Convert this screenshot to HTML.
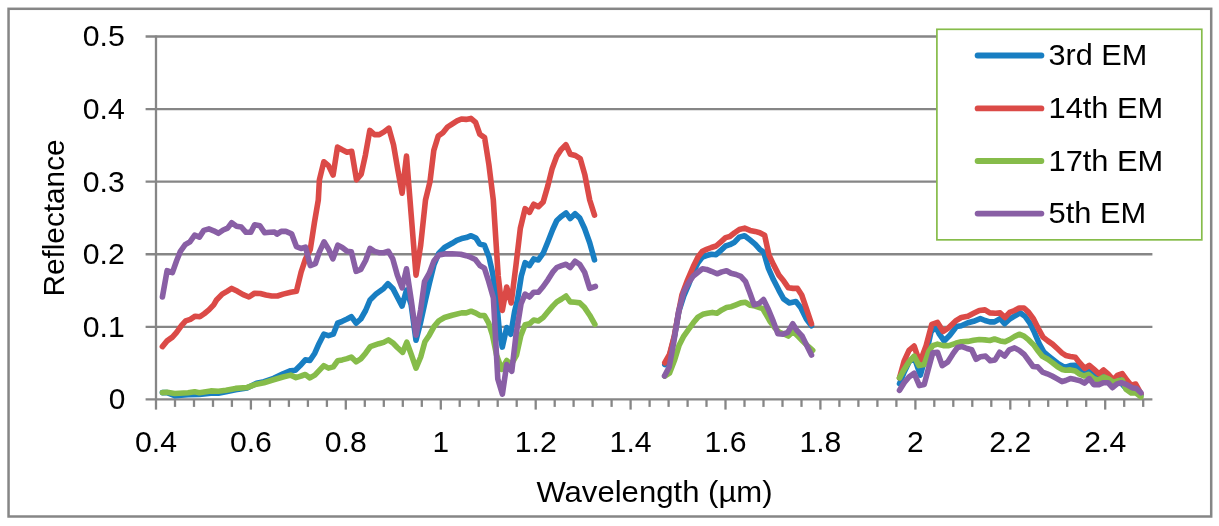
<!DOCTYPE html>
<html lang="en"><head><meta charset="utf-8"><title>Reflectance vs Wavelength</title>
<style>html,body{margin:0;padding:0;background:#fff}body{width:1219px;height:526px;overflow:hidden}svg text{font-kerning:normal}</style></head>
<body>
<svg width="1219" height="526" viewBox="0 0 1219 526" style="display:block">
<rect x="0" y="0" width="1219" height="526" fill="#fff"/>
<rect x="8.55" y="8.8" width="1202.65" height="507.7" fill="none" stroke="#868686" stroke-width="2.5"/>
<g stroke="#868686" stroke-width="2.3" fill="none">
<line x1="145.6" y1="399.40" x2="1152.4" y2="399.40"/>
<line x1="145.6" y1="326.82" x2="1152.4" y2="326.82"/>
<line x1="145.6" y1="254.24" x2="1152.4" y2="254.24"/>
<line x1="145.6" y1="181.66" x2="1152.4" y2="181.66"/>
<line x1="145.6" y1="109.08" x2="1152.4" y2="109.08"/>
<line x1="145.6" y1="36.50" x2="1152.4" y2="36.50"/>
<line x1="156.0" y1="35.50" x2="156.0" y2="399.40"/>
<line x1="156.0" y1="399.40" x2="156.0" y2="409.6"/>
<line x1="175.0" y1="399.40" x2="175.0" y2="406.9"/>
<line x1="194.0" y1="399.40" x2="194.0" y2="406.9"/>
<line x1="213.0" y1="399.40" x2="213.0" y2="406.9"/>
<line x1="231.9" y1="399.40" x2="231.9" y2="406.9"/>
<line x1="250.9" y1="399.40" x2="250.9" y2="409.6"/>
<line x1="269.9" y1="399.40" x2="269.9" y2="406.9"/>
<line x1="288.9" y1="399.40" x2="288.9" y2="406.9"/>
<line x1="307.9" y1="399.40" x2="307.9" y2="406.9"/>
<line x1="326.9" y1="399.40" x2="326.9" y2="406.9"/>
<line x1="345.8" y1="399.40" x2="345.8" y2="409.6"/>
<line x1="364.8" y1="399.40" x2="364.8" y2="406.9"/>
<line x1="383.8" y1="399.40" x2="383.8" y2="406.9"/>
<line x1="402.8" y1="399.40" x2="402.8" y2="406.9"/>
<line x1="421.8" y1="399.40" x2="421.8" y2="406.9"/>
<line x1="440.8" y1="399.40" x2="440.8" y2="409.6"/>
<line x1="459.7" y1="399.40" x2="459.7" y2="406.9"/>
<line x1="478.7" y1="399.40" x2="478.7" y2="406.9"/>
<line x1="497.7" y1="399.40" x2="497.7" y2="406.9"/>
<line x1="516.7" y1="399.40" x2="516.7" y2="406.9"/>
<line x1="535.7" y1="399.40" x2="535.7" y2="409.6"/>
<line x1="554.7" y1="399.40" x2="554.7" y2="406.9"/>
<line x1="573.6" y1="399.40" x2="573.6" y2="406.9"/>
<line x1="592.6" y1="399.40" x2="592.6" y2="406.9"/>
<line x1="611.6" y1="399.40" x2="611.6" y2="406.9"/>
<line x1="630.6" y1="399.40" x2="630.6" y2="409.6"/>
<line x1="649.6" y1="399.40" x2="649.6" y2="406.9"/>
<line x1="668.6" y1="399.40" x2="668.6" y2="406.9"/>
<line x1="687.6" y1="399.40" x2="687.6" y2="406.9"/>
<line x1="706.5" y1="399.40" x2="706.5" y2="406.9"/>
<line x1="725.5" y1="399.40" x2="725.5" y2="409.6"/>
<line x1="744.5" y1="399.40" x2="744.5" y2="406.9"/>
<line x1="763.5" y1="399.40" x2="763.5" y2="406.9"/>
<line x1="782.5" y1="399.40" x2="782.5" y2="406.9"/>
<line x1="801.5" y1="399.40" x2="801.5" y2="406.9"/>
<line x1="820.4" y1="399.40" x2="820.4" y2="409.6"/>
<line x1="839.4" y1="399.40" x2="839.4" y2="406.9"/>
<line x1="858.4" y1="399.40" x2="858.4" y2="406.9"/>
<line x1="877.4" y1="399.40" x2="877.4" y2="406.9"/>
<line x1="896.4" y1="399.40" x2="896.4" y2="406.9"/>
<line x1="915.4" y1="399.40" x2="915.4" y2="409.6"/>
<line x1="934.3" y1="399.40" x2="934.3" y2="406.9"/>
<line x1="953.3" y1="399.40" x2="953.3" y2="406.9"/>
<line x1="972.3" y1="399.40" x2="972.3" y2="406.9"/>
<line x1="991.3" y1="399.40" x2="991.3" y2="406.9"/>
<line x1="1010.3" y1="399.40" x2="1010.3" y2="409.6"/>
<line x1="1029.3" y1="399.40" x2="1029.3" y2="406.9"/>
<line x1="1048.2" y1="399.40" x2="1048.2" y2="406.9"/>
<line x1="1067.2" y1="399.40" x2="1067.2" y2="406.9"/>
<line x1="1086.2" y1="399.40" x2="1086.2" y2="406.9"/>
<line x1="1105.2" y1="399.40" x2="1105.2" y2="409.6"/>
<line x1="1124.2" y1="399.40" x2="1124.2" y2="406.9"/>
<line x1="1143.2" y1="399.40" x2="1143.2" y2="406.9"/>
</g>
<g fill="none" stroke-width="5.6" stroke-linejoin="round" stroke-linecap="round">
<polyline stroke="#187EC2" points="162.4,392.6 167.1,392.6 174.7,395.6 188.0,394.7 199.4,394.5 210.8,393.2 218.4,393.2 226.0,391.8 235.6,389.7 247.0,388.0 256.5,383.3 264.0,381.7 273.6,378.3 283.0,373.8 290.7,370.7 295.4,370.3 300.2,365.6 305.3,359.9 309.9,360.5 314.8,353.2 319.0,343.7 323.8,334.2 328.5,335.7 333.3,334.2 337.6,323.2 342.2,321.3 347.1,319.0 351.3,316.7 356.1,323.2 360.8,319.0 365.6,310.5 370.0,300.0 376.0,294.1 383.7,288.4 388.0,283.7 392.8,288.4 397.3,297.0 402.1,306.1 406.5,290.0 411.2,305.0 416.0,340.3 420.7,322.0 425.5,300.0 429.3,283.7 434.0,264.6 438.8,253.2 444.5,247.5 452.1,243.3 456.8,240.3 461.6,238.6 466.3,237.6 471.1,235.7 475.9,238.0 479.7,244.1 484.4,245.2 489.0,257.0 492.8,274.1 496.6,300.0 499.4,332.3 502.3,347.1 506.7,327.6 510.8,334.2 514.6,311.4 517.5,300.0 521.3,276.0 525.1,262.7 529.5,265.6 533.7,258.9 538.4,259.9 543.2,253.2 547.9,241.8 552.7,229.5 556.8,220.5 561.6,216.2 566.0,212.9 570.2,218.6 575.1,213.7 579.8,218.1 584.6,228.5 589.7,242.8 594.5,259.9"/>
<polyline stroke="#187EC2" points="664.8,364.6 669.5,356.0 674.3,337.0 679.0,311.0 683.8,296.0 688.5,285.0 693.3,272.0 698.0,262.7 702.4,257.0 706.6,255.5 711.4,254.2 716.1,254.7 720.9,250.4 725.6,246.0 729.8,244.7 734.6,242.2 739.3,237.1 744.6,235.7 750.0,239.9 755.1,244.1 759.8,249.4 763.7,252.3 768.4,268.4 773.5,279.8 778.9,290.3 783.6,298.9 789.3,302.9 795.9,301.5 800.7,307.6 806.4,319.0 811.5,325.7"/>
<polyline stroke="#187EC2" points="899.5,383.7 904.2,372.0 909.0,362.0 914.1,357.0 920.4,375.1 926.0,355.0 931.0,332.0 935.6,326.6 939.4,334.2 944.1,340.9 949.8,335.2 956.5,326.6 961.3,325.7 967.9,322.8 973.6,321.3 980.3,318.6 985.0,320.5 989.8,321.9 994.5,321.9 1000.2,318.6 1004.6,323.8 1009.7,319.0 1014.5,316.2 1020.2,312.9 1024.9,316.2 1029.7,322.8 1034.4,332.3 1039.2,343.7 1044.0,352.3 1048.7,356.1 1053.5,359.9 1058.2,363.7 1063.0,366.5 1065.7,367.1 1070.3,365.6 1075.3,365.3 1078.7,368.7 1081.7,372.5 1088.6,370.9 1093.8,375.5 1098.3,379.0 1103.6,374.0 1108.0,377.0 1113.3,381.0 1119.2,378.6 1121.9,384.0 1126.4,389.0 1131.2,391.0 1135.7,391.0 1140.9,395.0"/>
<polyline stroke="#DB4A47" points="162.4,346.6 167.1,340.9 172.4,337.1 176.6,332.3 181.4,325.7 185.7,320.9 190.3,319.4 195.2,316.2 199.8,316.7 204.2,313.7 208.9,309.9 213.7,304.8 216.5,300.0 222.2,294.1 227.0,291.3 231.7,288.4 237.5,291.3 243.2,294.7 248.9,297.0 254.6,293.2 260.3,293.5 266.0,295.0 271.7,296.0 277.4,296.0 283.1,294.1 290.7,292.2 296.4,291.3 301.1,272.2 305.5,258.9 310.3,249.4 314.4,222.8 318.3,200.0 319.4,179.8 323.8,161.8 328.5,165.6 333.1,175.1 337.5,147.1 342.2,149.8 347.0,152.3 351.7,151.3 356.5,179.8 361.2,174.1 365.4,155.1 369.8,130.4 374.5,134.6 379.3,134.6 384.0,131.9 388.8,128.1 393.5,144.7 397.9,170.3 402.1,193.2 406.5,156.1 411.2,215.0 416.0,275.1 420.7,245.0 425.5,200.0 430.0,181.7 433.8,150.4 438.2,136.1 442.9,132.7 447.5,127.0 452.4,123.8 457.0,120.9 461.4,119.0 466.1,119.4 470.9,118.4 475.6,122.4 479.8,134.2 484.6,137.6 488.9,164.6 493.3,200.0 498.2,276.0 502.3,310.5 506.7,287.0 511.2,303.0 516.0,265.0 520.3,228.5 525.1,208.6 529.5,212.4 533.7,204.2 538.4,206.7 543.2,201.9 547.9,185.6 552.2,168.4 556.8,156.1 561.2,149.4 565.9,144.7 570.3,154.2 575.4,155.5 580.2,158.6 584.9,175.1 589.7,200.0 594.5,215.2"/>
<polyline stroke="#DB4A47" points="664.8,362.7 669.5,354.5 674.3,336.0 679.0,310.0 681.9,295.0 687.6,279.8 693.3,266.5 698.0,257.0 702.4,251.3 706.6,249.4 711.4,247.5 716.1,246.0 720.9,241.8 725.6,237.6 729.8,236.5 734.6,232.7 739.3,229.5 744.6,228.1 750.0,230.4 755.1,231.4 759.8,232.7 764.6,235.2 769.0,255.1 773.5,264.6 778.9,275.1 783.6,280.8 788.4,287.8 793.1,288.4 797.5,288.4 801.7,295.0 806.5,309.0 811.5,323.8"/>
<polyline stroke="#DB4A47" points="899.5,377.9 904.2,360.8 909.0,350.4 914.1,346.0 919.8,362.7 926.1,345.6 931.8,324.3 937.5,322.4 943.2,331.4 948.9,327.6 955.6,320.9 961.3,317.5 967.9,316.2 973.6,313.3 979.3,310.5 985.0,309.9 989.8,312.9 995.5,313.3 1000.2,312.9 1005.0,317.5 1009.7,312.4 1014.5,310.5 1019.2,308.0 1024.0,308.0 1028.7,312.4 1033.5,319.0 1038.3,328.5 1043.0,337.1 1047.8,340.9 1052.5,344.1 1057.3,348.5 1062.0,353.0 1065.7,355.4 1070.3,356.4 1075.3,357.2 1079.4,362.4 1084.8,368.4 1089.3,365.4 1093.8,369.2 1099.0,373.8 1103.6,370.0 1108.0,373.8 1113.3,379.9 1117.4,375.3 1122.2,373.5 1126.7,379.9 1131.2,385.2 1135.7,384.0 1140.9,393.5"/>
<polyline stroke="#86BC4A" points="162.4,392.6 167.1,392.2 174.7,393.5 188.0,392.8 194.7,391.8 199.4,392.8 210.8,390.9 218.4,391.3 226.0,390.3 235.6,388.4 247.0,387.5 256.5,384.2 264.0,382.7 273.6,379.8 283.0,377.0 290.7,375.1 296.0,377.6 301.1,376.0 305.3,374.5 309.9,377.9 314.8,375.1 323.8,365.6 328.5,368.1 333.3,366.9 337.6,360.8 342.2,359.9 347.1,358.6 351.3,357.0 356.1,361.8 360.8,358.9 365.6,353.2 370.3,346.6 374.5,345.2 378.9,343.7 383.7,342.4 388.4,339.9 392.8,342.8 397.3,347.5 402.7,352.3 406.8,342.2 411.2,354.2 416.0,368.1 420.7,357.0 424.9,341.8 429.3,335.2 434.0,326.6 438.8,320.9 444.5,317.5 452.1,315.2 461.6,312.9 466.3,312.9 471.1,311.2 475.9,313.1 479.8,315.4 484.5,315.6 488.6,322.8 492.4,335.0 496.6,355.1 501.7,369.4 506.7,360.5 511.2,364.6 516.5,355.1 520.7,336.1 525.1,324.7 529.5,323.8 533.7,320.0 538.4,320.9 543.2,317.5 547.9,311.8 552.7,306.1 556.8,301.9 561.6,299.0 566.0,296.0 570.2,301.9 575.1,302.3 579.8,302.9 584.6,307.6 589.7,315.2 594.9,324.3"/>
<polyline stroke="#86BC4A" points="664.8,376.0 669.5,373.2 674.3,360.8 679.0,345.6 683.8,336.1 688.5,329.5 693.3,322.8 698.0,317.1 702.8,314.3 707.5,313.3 712.3,312.4 717.0,313.3 721.8,309.9 726.5,307.6 731.3,306.7 736.0,304.8 740.8,302.9 745.6,302.3 750.3,305.3 755.0,306.0 762.7,308.6 766.5,315.2 770.3,321.9 775.0,328.0 779.0,332.0 783.6,333.8 788.3,336.1 793.1,331.4 797.8,336.1 802.6,340.9 807.3,345.6 812.7,350.4"/>
<polyline stroke="#86BC4A" points="899.5,377.9 904.2,369.4 909.0,361.8 914.1,356.1 919.0,365.6 924.2,364.6 928.9,351.3 932.7,345.6 937.5,344.1 943.2,345.6 948.9,345.6 955.6,343.3 961.3,341.8 967.9,341.4 973.6,340.3 979.3,339.5 985.0,339.9 989.8,340.5 994.5,339.0 1000.2,340.9 1005.0,341.8 1009.7,339.5 1014.5,336.5 1019.2,334.2 1024.0,336.1 1028.7,339.9 1033.5,344.7 1038.3,351.3 1042.1,356.1 1047.8,359.3 1052.5,362.7 1057.3,366.5 1062.0,369.4 1065.7,370.2 1070.3,369.9 1075.3,371.0 1079.4,374.0 1084.0,376.0 1088.6,374.4 1093.8,378.6 1098.3,380.1 1103.6,377.0 1108.0,378.6 1113.3,382.4 1117.7,380.8 1122.2,380.1 1126.0,389.2 1131.2,393.0 1135.7,392.7 1140.9,396.8"/>
<polyline stroke="#895FA5" points="162.4,297.0 167.1,270.7 172.4,272.6 176.6,260.8 180.4,251.3 185.2,244.7 189.9,241.8 194.7,235.2 199.4,237.1 203.8,230.4 208.9,228.9 213.7,230.8 218.4,233.3 223.2,230.0 227.6,228.1 231.7,222.8 236.5,226.2 241.3,227.0 246.0,232.3 250.8,232.3 254.6,224.7 259.9,225.7 264.6,232.7 269.8,232.3 274.5,232.0 277.0,234.2 281.2,231.4 285.9,231.4 291.6,233.8 296.4,246.6 301.1,248.5 305.5,247.1 310.3,265.6 315.4,263.7 319.2,252.3 324.0,241.8 328.7,249.4 332.9,258.9 337.8,245.2 342.2,247.5 347.1,251.3 351.3,251.7 356.1,271.3 360.8,269.4 365.6,260.5 370.0,248.5 374.5,251.3 378.9,252.7 383.7,252.7 388.4,251.3 392.8,258.9 397.3,275.1 402.1,287.8 406.5,268.8 411.2,300.0 416.0,335.2 420.7,309.5 424.5,281.7 429.3,273.2 434.0,260.8 438.8,255.1 444.5,253.9 452.1,253.8 460.6,254.2 466.3,255.7 470.5,257.2 475.3,259.5 480.0,265.6 484.4,268.2 488.7,281.5 493.4,298.0 497.8,379.0 502.4,394.1 506.7,364.6 511.8,371.3 516.0,335.0 521.0,304.0 525.1,294.1 529.5,297.0 533.7,292.2 538.4,292.2 543.2,286.5 547.9,279.8 552.7,272.2 556.8,267.5 561.6,265.6 566.0,264.3 570.2,267.5 575.1,261.2 579.8,264.6 584.6,272.2 589.7,288.4 595.4,286.5"/>
<polyline stroke="#895FA5" points="664.5,376.0 669.2,367.0 673.8,342.0 678.6,311.5 683.8,292.0 688.5,283.0 693.3,276.0 698.0,272.2 702.4,268.8 706.6,269.4 711.4,271.3 717.1,273.8 721.8,271.9 726.6,270.7 731.0,273.2 736.1,274.5 740.8,276.4 745.6,281.7 750.0,293.2 754.1,304.8 759.0,303.5 763.5,299.5 768.4,309.5 773.1,320.9 777.9,333.8 783.2,334.2 787.8,332.3 792.7,323.8 796.9,330.4 802.2,336.1 806.8,345.6 811.5,355.1"/>
<polyline stroke="#895FA5" points="899.5,390.3 904.2,382.7 909.0,377.0 914.1,373.2 919.4,385.6 924.2,384.6 928.0,370.3 932.7,352.9 937.5,352.3 942.2,365.6 947.9,361.8 952.7,354.2 957.5,347.5 962.2,346.6 967.0,348.5 971.7,349.8 976.1,359.3 980.6,356.7 985.6,356.1 990.2,360.8 995.1,359.9 999.7,352.3 1004.6,356.1 1009.2,349.8 1014.5,347.9 1019.2,350.4 1024.0,354.2 1028.7,360.5 1033.1,366.5 1037.7,366.9 1042.6,372.2 1047.2,373.8 1052.1,376.0 1057.3,378.9 1062.0,381.7 1065.7,380.5 1070.3,378.6 1075.3,379.6 1080.2,380.8 1084.4,383.1 1089.3,378.6 1093.8,384.6 1099.0,384.6 1103.6,382.7 1108.0,382.7 1112.5,387.7 1117.0,383.9 1121.4,382.7 1126.7,384.6 1132.0,387.7 1136.4,388.4 1140.9,392.7"/>
</g>
<rect x="936.9" y="29.3" width="264.9" height="210.55" fill="#fff" stroke="#86BC4A" stroke-width="1.7"/>
<line x1="977.6" y1="55.5" x2="1041.4" y2="55.5" stroke="#187EC2" stroke-width="5.8" stroke-linecap="round"/>
<line x1="977.6" y1="108.4" x2="1041.4" y2="108.4" stroke="#DB4A47" stroke-width="5.8" stroke-linecap="round"/>
<line x1="977.6" y1="161.0" x2="1041.4" y2="161.0" stroke="#86BC4A" stroke-width="5.8" stroke-linecap="round"/>
<line x1="977.6" y1="213.6" x2="1041.4" y2="213.6" stroke="#895FA5" stroke-width="5.8" stroke-linecap="round"/>
<g font-family='"Liberation Sans", sans-serif' fill="#000">
<text x="1048.5" y="65.1" font-size="29.5px" text-anchor="start" textLength="98.7" lengthAdjust="spacingAndGlyphs">3rd EM</text>
<text x="1048.5" y="118.0" font-size="29.5px" text-anchor="start" textLength="114.8" lengthAdjust="spacingAndGlyphs">14th EM</text>
<text x="1048.5" y="170.6" font-size="29.5px" text-anchor="start" textLength="114.8" lengthAdjust="spacingAndGlyphs">17th EM</text>
<text x="1048.5" y="223.2" font-size="29.5px" text-anchor="start" textLength="97.7" lengthAdjust="spacingAndGlyphs">5th EM</text>
<text x="125.3" y="409.3" font-size="30px" text-anchor="end" textLength="16.6" lengthAdjust="spacingAndGlyphs">0</text>
<text x="124.7" y="336.7" font-size="30px" text-anchor="end" textLength="42.0" lengthAdjust="spacingAndGlyphs">0.1</text>
<text x="124.7" y="264.1" font-size="30px" text-anchor="end" textLength="42.0" lengthAdjust="spacingAndGlyphs">0.2</text>
<text x="124.7" y="191.6" font-size="30px" text-anchor="end" textLength="42.0" lengthAdjust="spacingAndGlyphs">0.3</text>
<text x="124.7" y="119.0" font-size="30px" text-anchor="end" textLength="42.0" lengthAdjust="spacingAndGlyphs">0.4</text>
<text x="124.7" y="46.4" font-size="30px" text-anchor="end" textLength="42.0" lengthAdjust="spacingAndGlyphs">0.5</text>
<text x="156.0" y="452.2" font-size="30px" text-anchor="middle" textLength="42.0" lengthAdjust="spacingAndGlyphs">0.4</text>
<text x="250.9" y="452.2" font-size="30px" text-anchor="middle" textLength="42.0" lengthAdjust="spacingAndGlyphs">0.6</text>
<text x="345.8" y="452.2" font-size="30px" text-anchor="middle" textLength="42.0" lengthAdjust="spacingAndGlyphs">0.8</text>
<text x="440.8" y="452.2" font-size="30px" text-anchor="middle" textLength="16.6" lengthAdjust="spacingAndGlyphs">1</text>
<text x="535.7" y="452.2" font-size="30px" text-anchor="middle" textLength="42.0" lengthAdjust="spacingAndGlyphs">1.2</text>
<text x="630.6" y="452.2" font-size="30px" text-anchor="middle" textLength="42.0" lengthAdjust="spacingAndGlyphs">1.4</text>
<text x="725.5" y="452.2" font-size="30px" text-anchor="middle" textLength="42.0" lengthAdjust="spacingAndGlyphs">1.6</text>
<text x="820.4" y="452.2" font-size="30px" text-anchor="middle" textLength="42.0" lengthAdjust="spacingAndGlyphs">1.8</text>
<text x="915.4" y="452.2" font-size="30px" text-anchor="middle" textLength="16.6" lengthAdjust="spacingAndGlyphs">2</text>
<text x="1010.3" y="452.2" font-size="30px" text-anchor="middle" textLength="42.0" lengthAdjust="spacingAndGlyphs">2.2</text>
<text x="1105.2" y="452.2" font-size="30px" text-anchor="middle" textLength="42.0" lengthAdjust="spacingAndGlyphs">2.4</text>
<text x="654.5" y="502" font-size="29.5px" text-anchor="middle" textLength="236.2" lengthAdjust="spacingAndGlyphs">Wavelength (µm)</text>
<text transform="translate(64.1 218.0) rotate(-90)" font-size="30px" text-anchor="middle" textLength="157.2" lengthAdjust="spacingAndGlyphs">Reflectance</text>
</g>
</svg>
</body></html>
